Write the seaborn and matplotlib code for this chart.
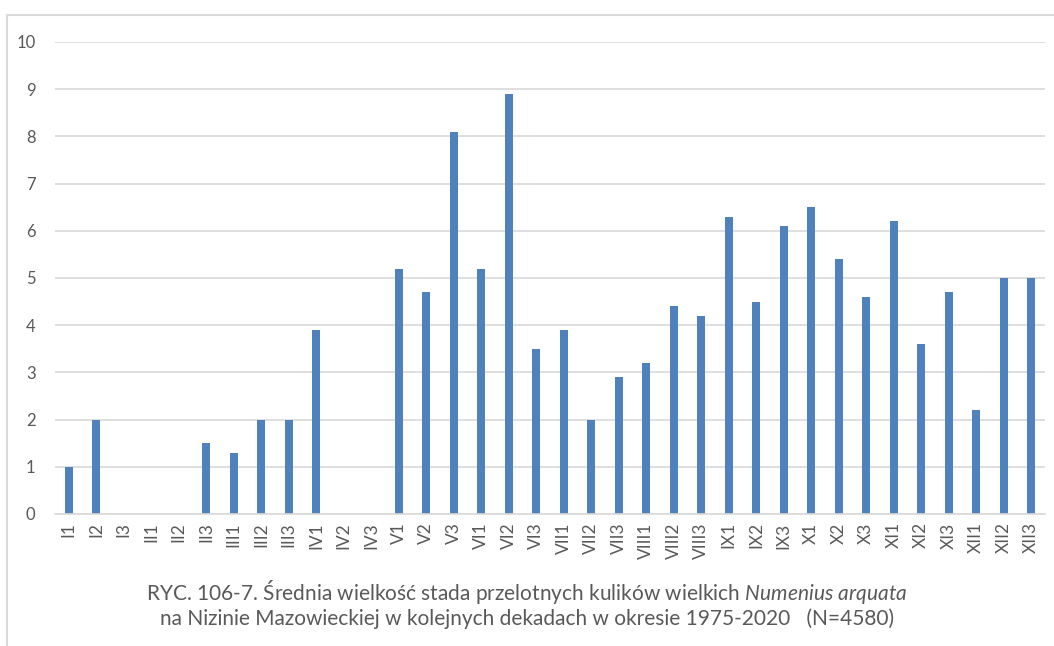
import matplotlib
matplotlib.use("Agg")
import matplotlib.pyplot as plt
import seaborn as sns
import pandas as pd
from matplotlib.lines import Line2D

categories = ["I1", "I2", "I3", "II1", "II2", "II3", "III1", "III2", "III3",
              "IV1", "IV2", "IV3", "V1", "V2", "V3", "VI1", "VI2", "VI3",
              "VII1", "VII2", "VII3", "VIII1", "VIII2", "VIII3", "IX1", "IX2", "IX3",
              "X1", "X2", "X3", "XI1", "XI2", "XI3", "XII1", "XII2", "XII3"]
values = [1.0, 2.0, 0, 0, 0, 1.5, 1.3, 2.0, 2.0,
          3.9, 0, 0, 5.2, 4.7, 8.1, 5.2, 8.9, 3.5,
          3.9, 2.0, 2.9, 3.2, 4.4, 4.2, 6.3, 4.5, 6.1,
          6.5, 5.4, 4.6, 6.2, 3.6, 4.7, 2.2, 5.0, 5.0]
yticks = [0, 1, 2, 3, 4, 5, 6, 7, 8, 9, 10]

sns.set_theme(style="white")
fam = "Lato"
plt.rcParams['font.family'] = [fam, 'DejaVu Sans']
plt.rcParams['mathtext.fontset'] = 'custom'
plt.rcParams['mathtext.rm'] = 'Lato'
plt.rcParams['mathtext.it'] = 'Lato:italic'

df = pd.DataFrame({"cat": categories, "val": values})

fig = plt.figure(figsize=(10.54, 6.46), dpi=100)
ax = fig.add_axes([55/1054, 1-514/646, (1045-55)/1054, (514-42)/646])
sns.barplot(data=df, x="cat", y="val", color="#4F81BD", width=0.3, ax=ax,
            saturation=1, edgecolor="#4F81BD", linewidth=0)
ax.set_ylim(0, 10)
ax.set_yticks(yticks)
ax.set_xlim(-0.5, len(categories)-0.5)
ax.yaxis.grid(True, color="#D9D9D9", linewidth=1.2)
ax.set_axisbelow(True)
for s in ["top", "right", "left"]:
    ax.spines[s].set_visible(False)
ax.spines["bottom"].set_color("#D9D9D9")
ax.spines["bottom"].set_linewidth(1.2)
ax.set_xlabel("")
ax.set_ylabel("")
ax.tick_params(axis="y", length=0, pad=14, labelsize=12, labelcolor="#595959")
for lab in ax.get_xticklabels():
    lab.set_rotation(90)
    lab.set_fontsize(12.5)
    lab.set_color("#595959")
ax.tick_params(axis="x", length=0, pad=6)

# outer chart border (top and left visible)
fig.add_artist(Line2D([6.5/1054, 1.0], [1-14.5/646, 1-14.5/646], color="#D9D9D9", lw=1.5, transform=fig.transFigure))
fig.add_artist(Line2D([6.5/1054, 6.5/1054], [1-14.5/646, 0], color="#D9D9D9", lw=1.5, transform=fig.transFigure))

fig.text(0.5, 1-592/646, "RYC. 106-7. Średnia wielkość stada przelotnych kulików wielkich $\\it{Numenius\\ arquata}$",
         ha="center", va="center", fontsize=15, color="#595959")
fig.text(0.5, 1-619/646, "na Nizinie Mazowieckiej w kolejnych dekadach w okresie 1975-2020   (N=4580)",
         ha="center", va="center", fontsize=15, color="#595959")

fig.savefig("out.png", dpi=100)
